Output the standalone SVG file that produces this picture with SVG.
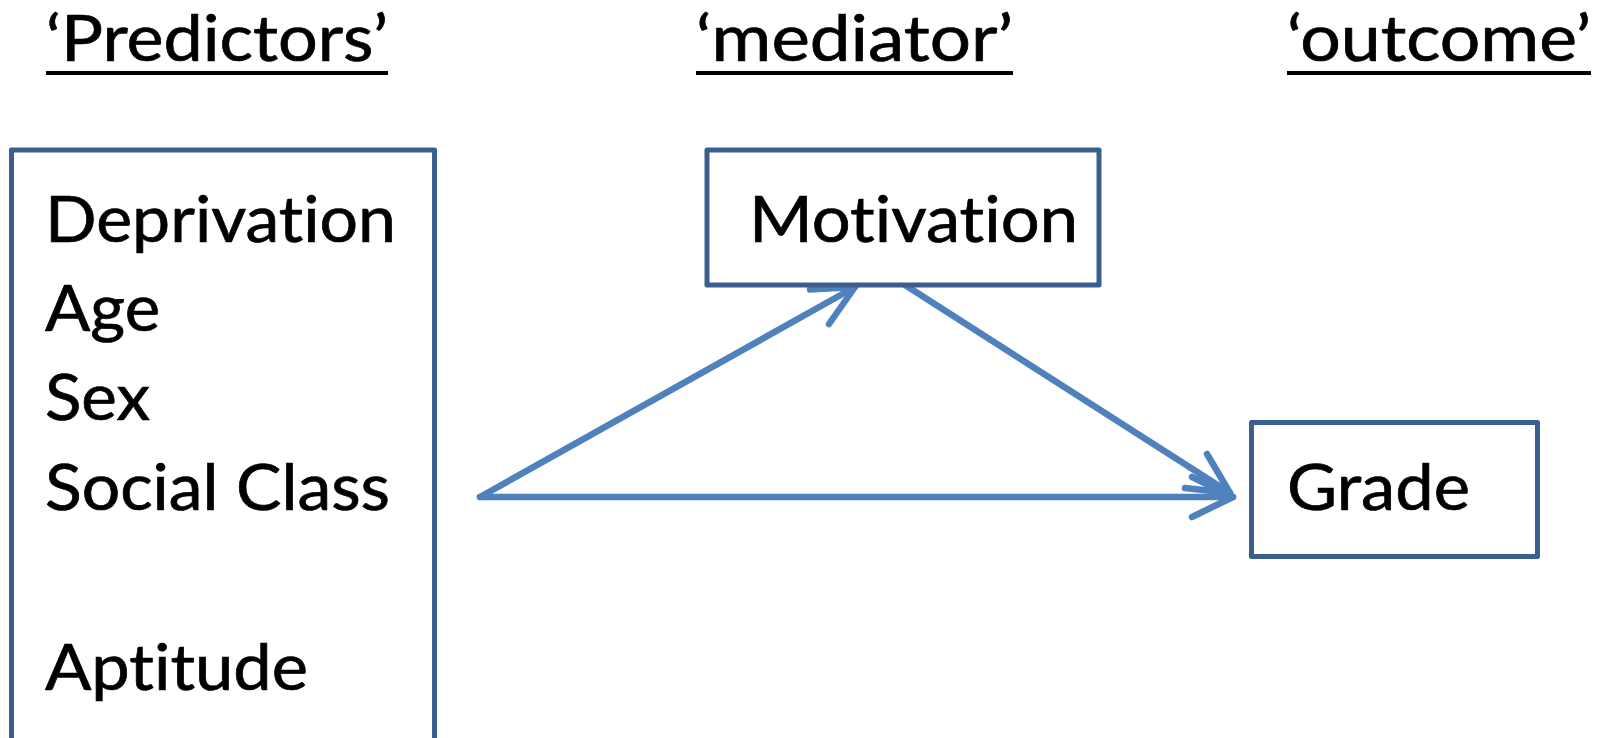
<svg xmlns="http://www.w3.org/2000/svg" width="1602" height="738" viewBox="0 0 1602 738">
<style>
  text { font-family: Lato, "Open Sans", "Liberation Sans", sans-serif; font-size: 64px; fill: #000; stroke: #000; stroke-width: 0.7; font-variant-ligatures: none; font-feature-settings: "liga" 0, "clig" 0; }
  .box { fill: #fff; stroke: #3A5F8E; stroke-width: 5; stroke-linejoin: round; }
  .ul { stroke: #000; stroke-width: 4; }
  .conn { fill: none; stroke: #4F81BD; stroke-width: 6.5; stroke-linecap: round; stroke-linejoin: round; }
</style>
<rect width="1602" height="738" fill="#fff"/>
<g id="headers">
  <text x="46" y="61" textLength="342" lengthAdjust="spacingAndGlyphs">‘Predictors’</text>
  <line class="ul" x1="46" y1="73" x2="388" y2="73"/>
  <text x="696" y="61" textLength="317" lengthAdjust="spacingAndGlyphs">‘mediator’</text>
  <line class="ul" x1="696" y1="73" x2="1013" y2="73"/>
  <text x="1287" y="61" textLength="304" lengthAdjust="spacingAndGlyphs">‘outcome’</text>
  <line class="ul" x1="1287" y1="73" x2="1591" y2="73"/>
</g>
<g id="connectors">
  <path class="conn" d="M480,497 L855,287"/>
  <path class="conn" d="M810,289.5 L855,287 L829,324"/>
  <path class="conn" d="M905,285 L1230,493"/>
  <path class="conn" d="M1185,488 L1230,493 L1207,454"/>
  <path class="conn" d="M480,497 L1233,497"/>
  <path class="conn" d="M1192,477 L1233,497 L1192,517"/>
</g>
<g id="predictors">
  <rect class="box" x="11.5" y="150" width="423" height="620"/>
  <text x="45" y="242" textLength="351" lengthAdjust="spacingAndGlyphs">Deprivation</text>
  <text x="45" y="331" textLength="115" lengthAdjust="spacingAndGlyphs">Age</text>
  <text x="45" y="420" textLength="105" lengthAdjust="spacingAndGlyphs">Sex</text>
  <text x="45" y="510" textLength="345" lengthAdjust="spacingAndGlyphs">Social Class</text>
  <text x="45" y="690" textLength="263" lengthAdjust="spacingAndGlyphs">Aptitude</text>
</g>
<g id="motivation">
  <rect class="box" x="707" y="150" width="392" height="135"/>
  <text x="749" y="242" textLength="329" lengthAdjust="spacingAndGlyphs">Motivation</text>
</g>
<g id="grade">
  <rect class="box" x="1251.5" y="422.5" width="286" height="134"/>
  <text x="1287" y="510" textLength="183" lengthAdjust="spacingAndGlyphs">Grade</text>
</g>
</svg>
